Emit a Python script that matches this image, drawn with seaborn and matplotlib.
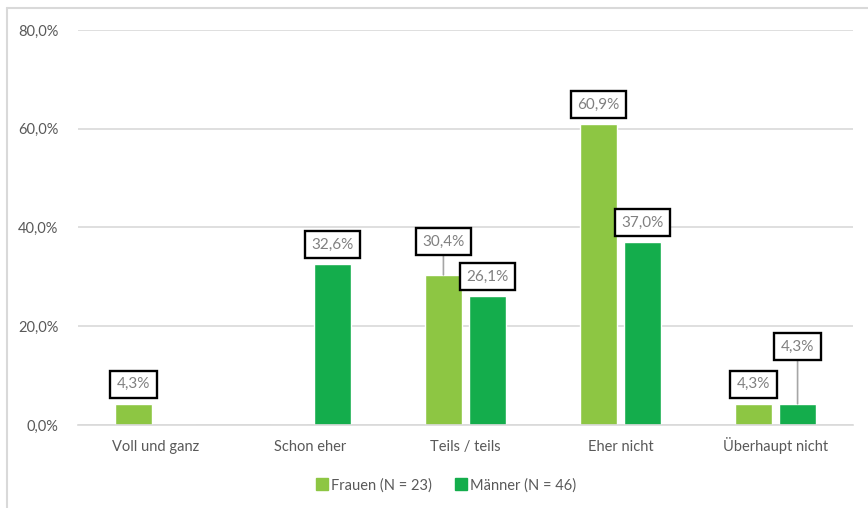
import matplotlib
matplotlib.use("Agg")
import matplotlib.pyplot as plt
from matplotlib.lines import Line2D
from matplotlib.ticker import FuncFormatter
import seaborn as sns
import pandas as pd

categories = ["Voll und ganz", "Schon eher", "Teils / teils", "Eher nicht", "Überhaupt nicht"]
series_names = ["Frauen (N = 23)", "Männer (N = 46)"]
frauen = [4.3, 0.0, 30.4, 60.9, 4.3]
maenner = [0.0, 32.6, 26.1, 37.0, 4.3]
y_ticks = [0, 20, 40, 60, 80]

colors = ["#8DC643", "#14AD4C"]
text_gray = "#595959"
grid_gray = "#D9D9D9"

df = pd.DataFrame({
    "Kategorie": categories * 2,
    "Gruppe": [series_names[0]] * len(categories) + [series_names[1]] * len(categories),
    "Wert": frauen + maenner,
})

sns.set_theme(style="white")
plt.rcParams["font.family"] = ["Lato", "DejaVu Sans"]

fig = plt.figure(figsize=(8.68, 5.08), dpi=100)
ax = fig.add_axes([0.0899, 0.1634, 0.8928, 0.7776])

sns.barplot(data=df, x="Kategorie", y="Wert", hue="Gruppe", order=categories,
            hue_order=series_names, palette=colors, width=0.57, gap=0.17,
            saturation=1, ax=ax, legend=False)

ax.set_ylim(0, 80)
ax.set_xlim(-0.5, len(categories) - 0.5)
ax.set_yticks(y_ticks)
ax.yaxis.set_major_formatter(FuncFormatter(lambda v, _: f"{v:.1f}%".replace(".", ",")))
ax.grid(axis="y", color=grid_gray, lw=1.2)
ax.set_axisbelow(True)
for s in ["top", "right", "left"]:
    ax.spines[s].set_visible(False)
ax.spines["bottom"].set_color(grid_gray)
ax.spines["bottom"].set_linewidth(1.2)
ax.tick_params(axis="both", length=0, labelsize=10.5, labelcolor=text_gray)
ax.tick_params(axis="x", pad=19)
ax.tick_params(axis="y", pad=14)
for lbl in ax.get_xticklabels():
    lbl.set_verticalalignment("baseline")
ax.set_xlabel("")
ax.set_ylabel("")

# value labels in framed boxes; some lifted with a leader line
lift = {(0, 2): 24, (1, 4): 41}
for si, cont in enumerate(ax.containers):
    values = [frauen, maenner][si]
    for ci, (bar, v) in enumerate(zip(cont.patches, values)):
        if v <= 0:
            continue
        x = bar.get_x() + bar.get_width() / 2
        dy = lift.get((si, ci), 14)
        ax.annotate(f"{v:.1f}%".replace(".", ","), xy=(x, v), xytext=(0, dy),
                    textcoords="offset points", ha="center", va="center",
                    fontsize=11, color="#808080",
                    bbox=dict(boxstyle="square,pad=0.42", fc="white", ec="black", lw=1.7),
                    arrowprops=dict(arrowstyle="-", color="#A6A6A6", lw=1.2,
                                    shrinkA=0, shrinkB=0) if dy > 14 else None)

handles = [Line2D([], [], marker="s", ls="", markersize=9, color=c) for c in colors]
fig.legend(handles, series_names, loc="center", bbox_to_anchor=(0.513, 0.045), ncol=2,
           frameon=False, fontsize=10.5, labelcolor=text_gray, handletextpad=0.1,
           columnspacing=1.5, handlelength=1.0)

# chart frame
bx, by = 7 / 868, 1 - 8 / 508
fig.add_artist(Line2D([bx, 1], [by, by], transform=fig.transFigure, color=grid_gray, lw=1.5))
fig.add_artist(Line2D([bx, bx], [0, by], transform=fig.transFigure, color=grid_gray, lw=1.5))

fig.savefig("out.png", dpi=100)
